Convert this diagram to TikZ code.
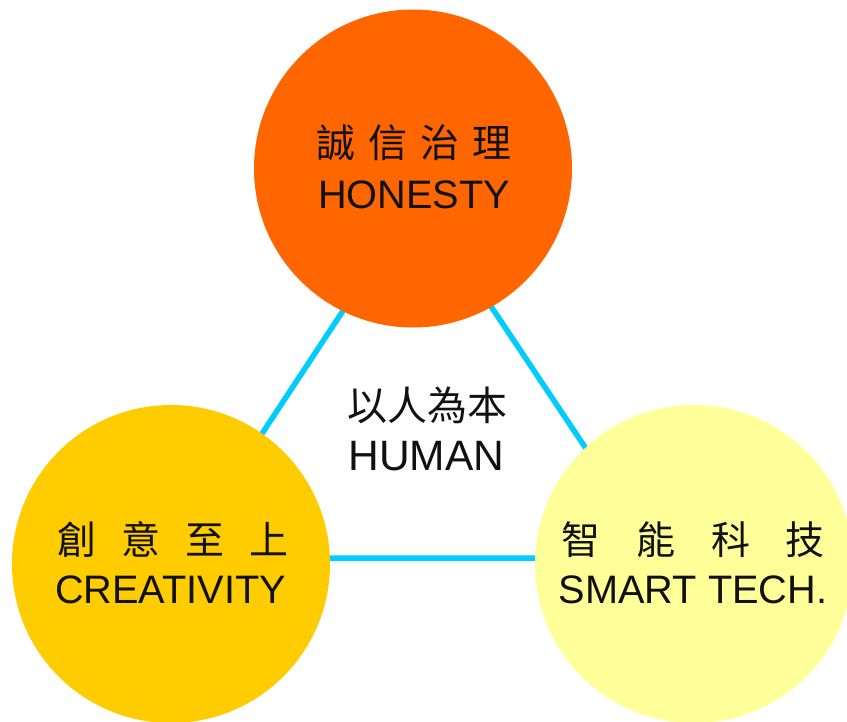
\documentclass[tikz,border=0pt]{standalone}
\usepackage{fontspec}
\setmainfont{Liberation Sans}
\newfontfamily\cjk{Noto Sans CJK TC}
\definecolor{honcol}{HTML}{FF6600}
\definecolor{crecol}{HTML}{FFCC00}
\definecolor{smacol}{HTML}{FFFF99}
\definecolor{linecol}{HTML}{00CCFF}
\definecolor{txtcol}{HTML}{111111}
\tikzset{
  circ/.style={circle, draw=none, minimum size=318bp, inner sep=0pt},
  link/.style={draw=linecol, line width=5.5bp},
  cjkt/.style={font=\cjk\fontsize{39bp}{39bp}\selectfont, text=txtcol, inner sep=0pt, anchor=center},
  latt/.style={font=\fontsize{39.7bp}{40bp}\selectfont, text=txtcol, inner sep=0pt, anchor=base},
}
\begin{document}
\begin{tikzpicture}[x=1bp,y=-1bp]
  \useasboundingbox (0,0) rectangle (847,722);
  \clip (0,0) rectangle (847,722);
  \fill[white] (0,0) rectangle (847,722);
  % triangle of links
  \coordinate (ta) at (418,197);
  \coordinate (tb) at (180,558);
  \coordinate (tc) at (659,558);
  \draw[link] (ta) -- (tb) -- (tc) -- cycle;
  % circles
  \node[circ, fill=honcol] (hon) at (413,168.5) {};
  \node[circ, fill=crecol] (cre) at (171,564) {};
  \node[circ, fill=smacol] (sma) at (694,564) {};
  % texts
  \node[cjkt] (honzh) at (414,143) {\makebox[196bp][s]{誠\hfill 信\hfill 治\hfill 理}};
  \node[latt] (honen) at (414,208) {HONESTY};
  \node[cjkt] (crezh) at (173.5,539.5) {\makebox[231bp][s]{創\hfill 意\hfill 至\hfill 上}};
  \node[latt] (creen) at (170.5,603) {CREATIVITY};
  \node[cjkt] (smazh) at (693,539.5) {\makebox[264bp][s]{智\hfill 能\hfill 科\hfill 技}};
  \node[latt] (smaen) at (693,603) {SMART TECH.};
  \node[cjkt, font=\cjk\fontsize{40bp}{40bp}\selectfont] (humzh) at (427,405) {以人為本};
  \node[latt, font=\fontsize{42.5bp}{43bp}\selectfont] (humen) at (426.5,470) {HUMAN};
\end{tikzpicture}
\end{document}
